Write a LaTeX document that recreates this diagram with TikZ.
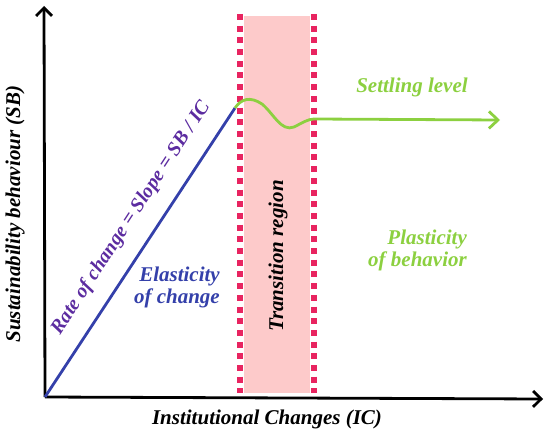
\documentclass[tikz,border=0pt]{standalone}
\usepackage{fontspec}
\setmainfont{Liberation Serif}
\usetikzlibrary{arrows.meta}
\definecolor{limegreen}{RGB}{140,208,64}
\definecolor{slopeblue}{RGB}{52,64,170}
\definecolor{slopepurple}{RGB}{92,44,160}
\definecolor{crimsondot}{RGB}{232,36,96}
\definecolor{pinkfill}{RGB}{253,202,202}
\tikzset{
  lbl/.style={font=\fontsize{21}{22}\selectfont\bfseries\itshape, inner sep=0pt},
  dotline/.style={crimsondot, line width=6pt, dash pattern=on 6pt off 5.7pt},
  axis/.style={line width=2.8pt, -{Straight Barb[length=8pt,width=16pt,line width=2.8pt]}},
}
\begin{document}
\begin{tikzpicture}[x=1pt,y=-1pt]
                    \useasboundingbox (0,0) rectangle (545,433);
                    % Coordinates
                    \coordinate (O) at (45,397);
                    \coordinate (ytip) at (44,6);
                    \coordinate (xtip) at (543,399);
                    \coordinate (knee) at (235,108);
                    \coordinate (join) at (314,119);
                    \coordinate (gtip) at (500,120);
                    % Transition band
                    \fill[pinkfill] (244,16) rectangle (310,393);
                    \draw[dotline] (240,14) -- (240,393);
                    \draw[dotline] (314,14) -- (314,393);
                    % Axes
                    \draw[axis] (O) -- (ytip);
                    \draw[axis] (O) -- (xtip);
                    % Curves
                    \draw[slopeblue, line width=2.8pt] (O) -- (knee);
                    \draw[limegreen, line width=2.8pt] (knee) .. controls (241,99) and (250,96) .. (262,104)
                      .. controls (274,114) and (281,132) .. (294,127) .. controls (302,123) and (308,119) .. (join);
                    \draw[limegreen, line width=2.8pt, -{Straight Barb[length=9pt,width=17pt,line width=2.8pt]}] (join) -- (gtip);
                    % Nodes
                    \node[lbl, rotate=90] (ylabel) at (15,214) {Sustainability behaviour (SB)};
                    \node[lbl] (xlabel) at (267,419) {Institutional Changes (IC)};
                    \node[lbl, slopepurple, rotate=56.8, font=\fontsize{20}{22}\selectfont\bfseries\itshape] (rate) at (131,218) {Rate of change = Slope = SB / IC};
                    \node[lbl, slopeblue, align=right, anchor=east] (elastic) at (220,287) {Elasticity\\of change};
                    \node[lbl, rotate=90] (trans) at (278,256) {Transition region};
                    \node[lbl, limegreen] (settle) at (412,87) {Settling level};
                    \node[lbl, limegreen, align=right, anchor=east] (plastic) at (467,250) {Plasticity\\of behavior};
                \end{tikzpicture}
\end{document}
